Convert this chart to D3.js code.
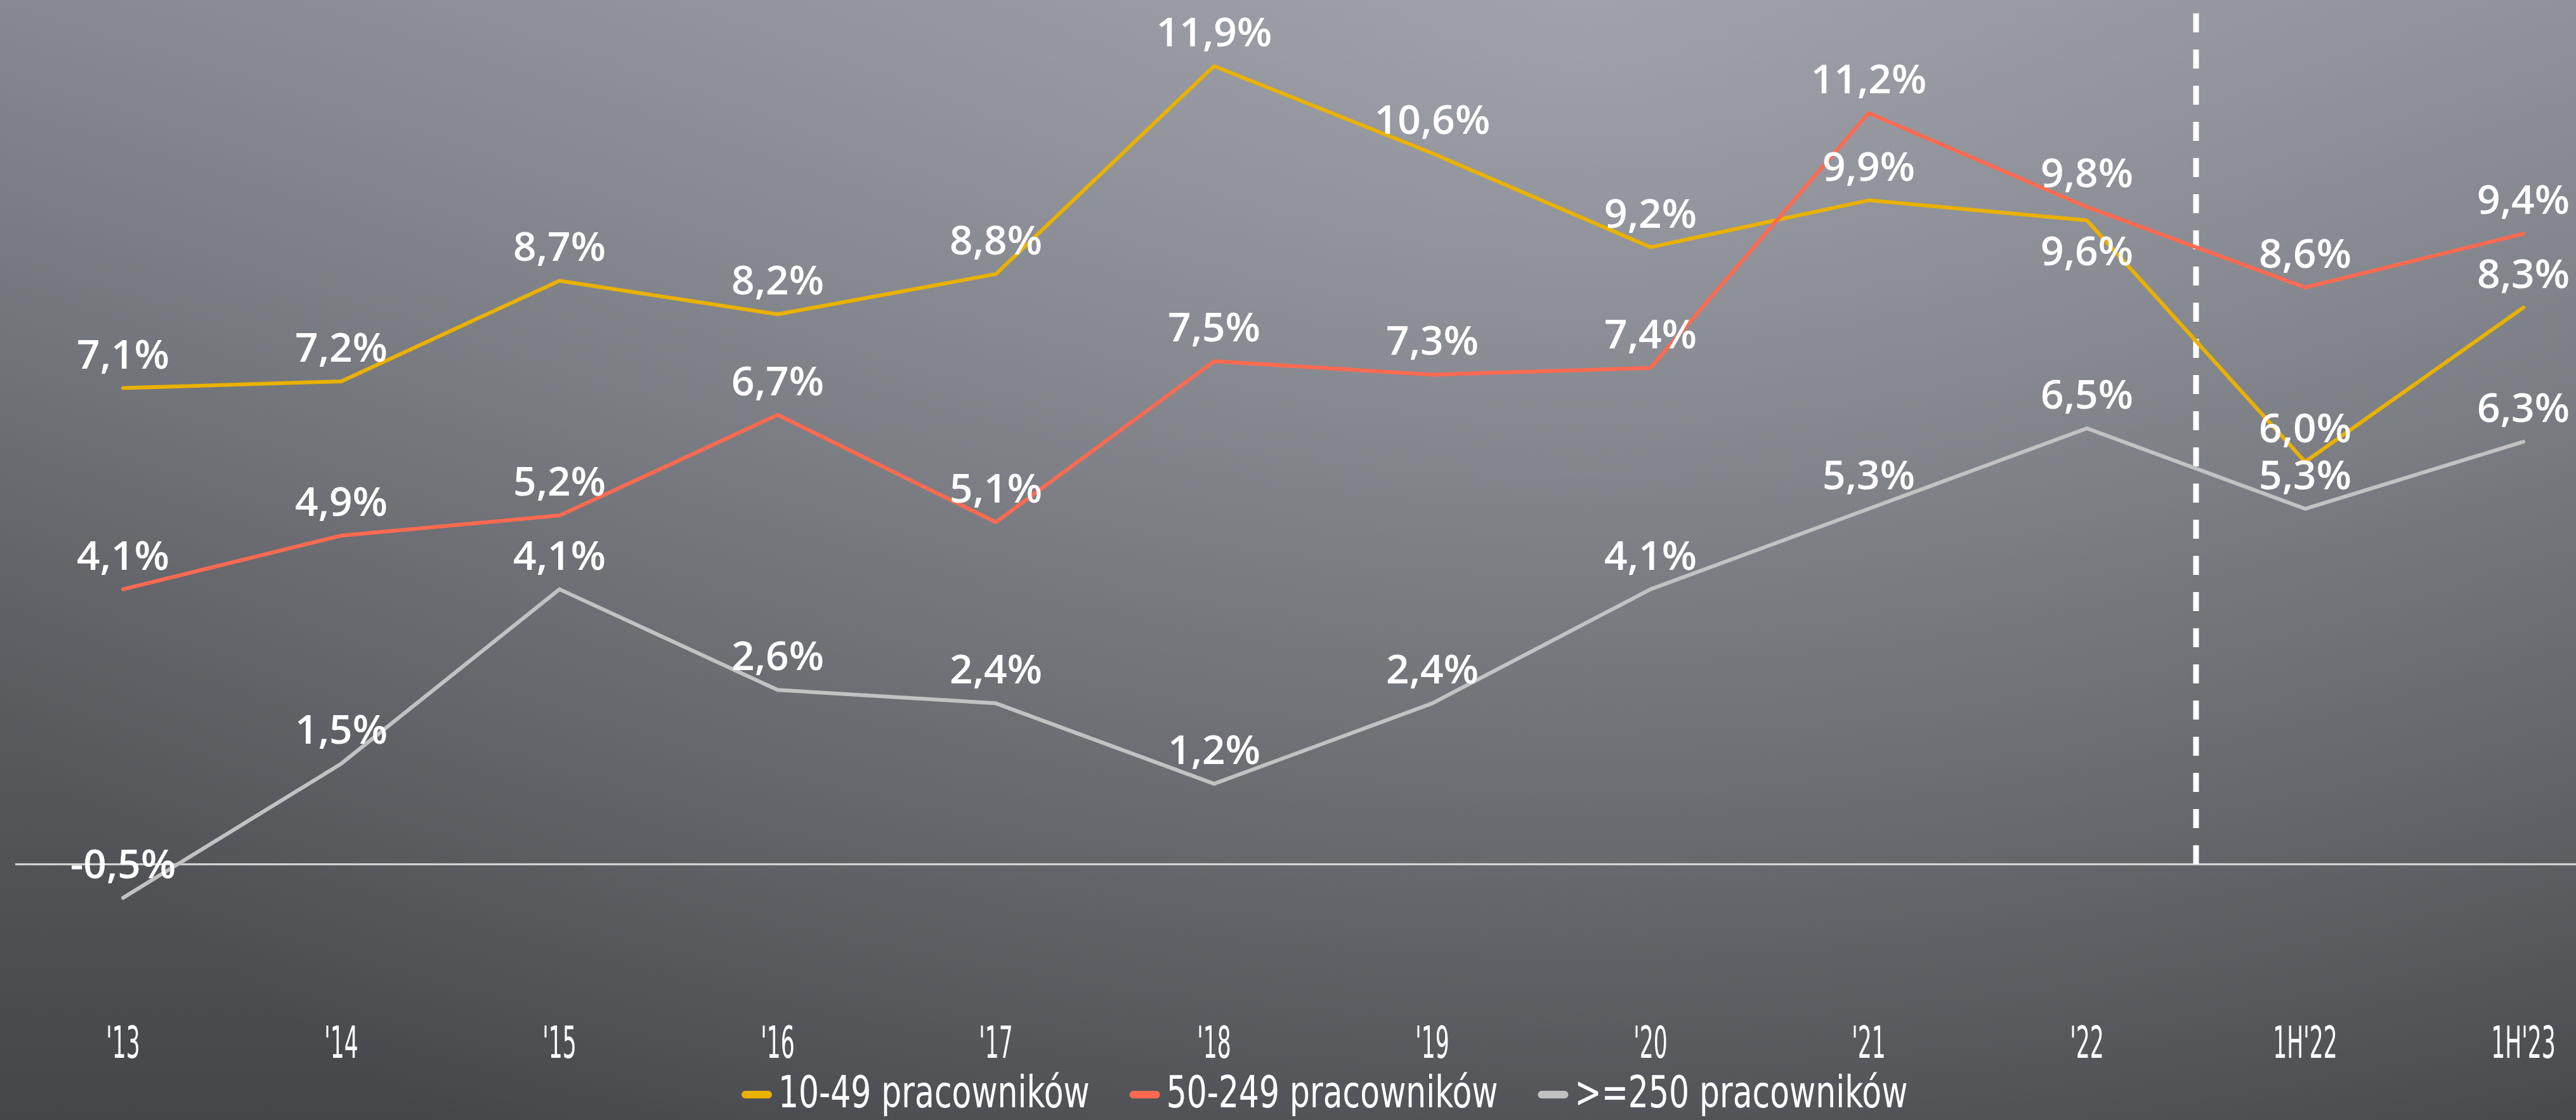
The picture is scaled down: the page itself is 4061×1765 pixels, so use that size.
<!DOCTYPE html>
<html lang="pl">
<head>
<meta charset="utf-8">
<title>Dynamika - pracownicy</title>
<script src="https://d3js.org/d3.v7.min.js"></script>
<style>
  body { margin: 0; background: #55575c; }
  .chart text { fill: #fff; }
  .lbl { font: 600 64px "Open Sans", sans-serif; text-anchor: middle; }
  .tick-lbl { font: 70px "DejaVu Sans Condensed", sans-serif; text-anchor: middle; }
  .leg-lbl { font: 70px "DejaVu Sans Condensed", sans-serif; }
</style>
</head>
<body>
<svg class="chart"></svg>
<script>
var width = 4061,
    height = 1765;

// data
var categories = ["'13", "'14", "'15", "'16", "'17", "'18", "'19", "'20", "'21", "'22", "1H'22", "1H'23"];
var small  = [7.1, 7.2, 8.7, 8.2, 8.8, 11.9, 10.6, 9.2, 9.9, 9.6, 6.0, 8.3];
var medium = [4.1, 4.9, 5.2, 6.7, 5.1, 7.5, 7.3, 7.4, 11.2, 9.8, 8.6, 9.4];
var large  = [-0.5, 1.5, 4.1, 2.6, 2.4, 1.2, 2.4, 4.1, 5.3, 6.5, 5.3, 6.3];
var seriesNames = ["10-49 pracowników", "50-249 pracowników", ">=250 pracowników"];

var series = [
  {name: seriesNames[0], values: small,  color: "#e9b100", below: ["'22"]},
  {name: seriesNames[1], values: medium, color: "#ff6a50", below: []},
  {name: seriesNames[2], values: large,  color: "#c2c2c2", below: []}
];

var svg = d3.select(".chart")
    .attr("width", width)
    .attr("height", height);

// background
var defs = svg.append("defs");
var lin = defs.append("linearGradient").attr("id", "bgLin")
    .attr("x1", 0).attr("y1", 0).attr("x2", 0).attr("y2", 1);
lin.append("stop").attr("offset", 0).attr("stop-color", "#82858d");
lin.append("stop").attr("offset", 0.5).attr("stop-color", "#606267");
lin.append("stop").attr("offset", 1).attr("stop-color", "#45464a");

var rad = defs.append("radialGradient").attr("id", "bgRad")
    .attr("gradientUnits", "userSpaceOnUse")
    .attr("cx", 2500).attr("cy", 0).attr("r", 2300)
    .attr("gradientTransform", "translate(2500,0) scale(1.25,1) translate(-2500,0)");
rad.append("stop").attr("offset", 0).attr("stop-color", "#bcbfc8").attr("stop-opacity", 0.5);
rad.append("stop").attr("offset", 1).attr("stop-color", "#bcbfc8").attr("stop-opacity", 0);

svg.append("rect").attr("width", width).attr("height", height).attr("fill", "url(#bgLin)");
svg.append("rect").attr("width", width).attr("height", height).attr("fill", "url(#bgRad)");

// scales
var x = d3.scalePoint().domain(categories).range([194, 3978]);
var y = d3.scaleLinear().domain([0, 12]).range([1362, 1362 - 12 * 105.7]);

var pl = d3.formatLocale({decimal: ",", thousands: " ", grouping: [3], currency: ["", " zł"], minus: "-"});
var fmt = function(v) { return pl.format(".1f")(v) + "%"; };

// zero line
svg.append("line")
    .attr("x1", 24).attr("x2", width)
    .attr("y1", y(0)).attr("y2", y(0))
    .attr("stroke", "#dcdcdc").attr("stroke-width", 3);

// divider between years and half-years
var xDiv = (x("'22") + x("1H'22")) / 2;
svg.append("line")
    .attr("x1", xDiv).attr("x2", xDiv)
    .attr("y1", 21).attr("y2", 1388)
    .attr("stroke", "#fff").attr("stroke-width", 9)
    .attr("stroke-dasharray", "30,27");

// lines
var line = d3.line()
    .x(function(d, i) { return x(categories[i]); })
    .y(function(d) { return y(d); });

svg.selectAll("path.series")
  .data(series)
  .enter().append("path")
    .attr("class", "series")
    .attr("d", function(s) { return line(s.values); })
    .attr("fill", "none")
    .attr("stroke", function(s) { return s.color; })
    .attr("stroke-width", 6)
    .attr("stroke-linejoin", "round")
    .attr("stroke-linecap", "round");

// value labels
series.forEach(function(s) {
  svg.append("g").selectAll("text")
    .data(s.values)
    .enter().append("text")
      .attr("class", "lbl")
      .attr("x", function(d, i) { return x(categories[i]); })
      .attr("y", function(d, i) {
        return s.below.indexOf(categories[i]) >= 0 ? y(d) + 48 : y(d) - 54;
      })
      .attr("dy", "0.36em")
      .text(fmt);
});

// x axis labels
svg.append("g").selectAll("text")
  .data(categories)
  .enter().append("text")
    .attr("class", "tick-lbl")
    .attr("transform", function(d) { return "translate(" + x(d) + ",1667) scale(0.55,1)"; })
    .text(function(d) { return d; });

// legend (narrow text, squeezed horizontally)
var squeeze = 0.8;
var leg = svg.append("g").attr("transform", "translate(1171,1745)");
var lx = 0;
series.forEach(function(s) {
  leg.append("line")
    .attr("x1", lx + 4).attr("x2", lx + 40)
    .attr("y1", -20).attr("y2", -20)
    .attr("stroke", s.color).attr("stroke-width", 12)
    .attr("stroke-linecap", "round");
  var t = leg.append("text")
    .attr("class", "leg-lbl")
    .attr("transform", "translate(" + (lx + 56) + ",0) scale(" + squeeze + ",1)")
    .text(s.name);
  lx += 56 + t.node().getComputedTextLength() * squeeze + 65;
});
</script>
</body>
</html>
